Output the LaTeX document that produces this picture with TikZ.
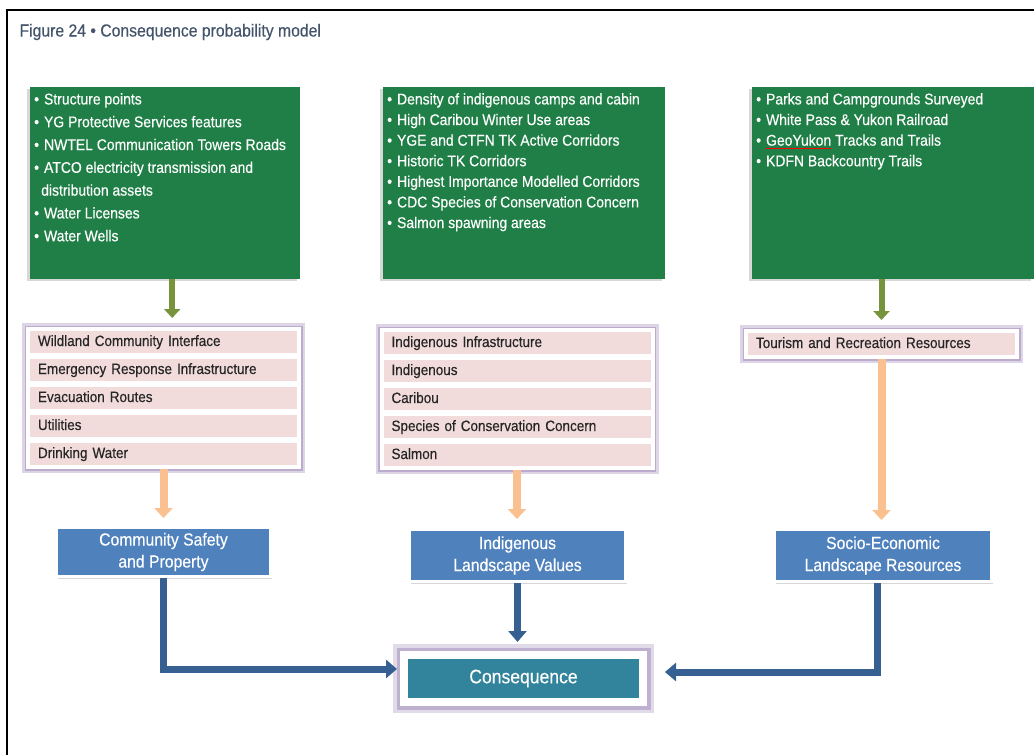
\documentclass[tikz,border=0pt]{standalone}
\usepackage{fontspec}
\setmainfont{Liberation Sans}[FakeStretch=0.9, FakeBold=0.35]
\usetikzlibrary{positioning, arrows.meta, fit, backgrounds, shadows}

\definecolor{listgreen}{HTML}{1F7F46}
\definecolor{arrowgreen}{HTML}{77933C}
\definecolor{rowpink}{HTML}{F2DCDB}
\definecolor{rowline}{HTML}{CFC6DE}
\definecolor{glowpurple}{HTML}{B3A2C7}
\definecolor{arroworange}{HTML}{FAC090}
\definecolor{valueblue}{HTML}{4F81BD}
\definecolor{linkblue}{HTML}{366092}
\definecolor{consteal}{HTML}{31849B}
\definecolor{titleblue}{HTML}{44546A}
\definecolor{rowtext}{HTML}{262626}

\newcommand{\bul}{\textbullet\hspace{5pt}}
\makeatletter
\newcommand{\spellmark}[1]{\setbox\z@\hbox{#1}\rlap{\textcolor{red}{\rule[-3pt]{\wd\z@}{0.7pt}}}\box\z@}
\makeatother

\tikzset{
  listbox/.style={
	fill=listgreen, text=white, % green source boxes
	anchor=north west, inner xsep=4pt, inner ysep=6pt,
	font=\fontsize{15.5}{20.6}\selectfont,
	drop shadow={shadow xshift=-3pt, shadow yshift=-2pt, fill=black!30, opacity=.5},
  },
  rowbox/.style={
	fill=rowpink, draw=white, line width=4pt, outer sep=0pt, % one pink line of a group
	minimum width=271pt, minimum height=26pt, text width=251pt,
	text height=11pt, text depth=3pt,
	inner xsep=10pt, inner ysep=0pt, align=left, text=rowtext,
	font=\fontsize{15}{18}\selectfont,
  },
  grpbox/.style={
	fill=rowline, draw=white, line width=3pt, inner sep=0pt, % purple frame round the lines
	preaction={draw=glowpurple!45, line width=12pt},
	preaction={draw=glowpurple!90, line width=7pt},
  },
  valbox/.style={
	fill=valueblue, draw=white, line width=3pt, text=white, align=center,
	font=\fontsize{17.5}{22}\selectfont,
	drop shadow={shadow xshift=1pt, shadow yshift=-2pt, fill=black!40, opacity=.4},
  },
  consbox/.style={
	fill=consteal, draw=white, line width=8pt, text=white,
	minimum width=239pt, minimum height=47pt,
	font=\fontsize{19.5}{22}\selectfont,
	preaction={draw=glowpurple!40, line width=22pt},
	preaction={draw=glowpurple!85, line width=15pt},
  },
  greenflow/.style={draw=arrowgreen, line width=6pt, -{Triangle[width=16pt,length=9pt]}},
  orangeflow/.style={draw=arroworange, line width=8pt, -{Triangle[width=18pt,length=10pt]}},
  blueflow/.style={draw=linkblue, line width=7pt, -{Triangle[width=18pt,length=11pt]}},
}

\begin{document}
\begin{tikzpicture}[x=1pt, y=-1pt]
	  \useasboundingbox (0,0) rectangle (1034,755);
	  \draw[line width=2pt] (1034,10) -| (7,755);
	  \node[font=\fontsize{17.5}{20}\selectfont, text=titleblue, anchor=west] (title) at (16,32)
		{Figure 24 \textbullet{} Consequence probability model};

	  % data sources
	  \node[listbox, font=\fontsize{15.5}{22.8}\selectfont] (lst1) at (30,87) {\parbox[t][180pt][t]{262pt}{\raggedright
		\bul Structure points\\
		\bul YG Protective Services features\\
		\bul NWTEL Communication Towers Roads\\
		\bul ATCO electricity transmission and\\
		\hspace*{7pt}distribution assets\\
		\bul Water Licenses\\
		\bul Water Wells}};
	  \node[listbox] (lst2) at (383,87) {\parbox[t][180pt][t]{274pt}{\raggedright
		\bul Density of indigenous camps and cabin\\
		\bul High Caribou Winter Use areas\\
		\bul YGE and CTFN TK Active Corridors\\
		\bul Historic TK Corridors\\
		\bul Highest Importance Modelled Corridors\\
		\bul CDC Species of Conservation Concern\\
		\bul Salmon spawning areas}};
	  \node[listbox] (lst3) at (752,87) {\parbox[t][180pt][t]{274pt}{\raggedright
		\bul Parks and Campgrounds Surveyed\\
		\bul White Pass \& Yukon Railroad\\
		\bul \spellmark{GeoYukon} Tracks and Trails\\
		\bul KDFN Backcountry Trails}};

	  % value layers
	  \node[rowbox] (wci) at (163.5,342) {Wildland Community Interface};
	  \node[rowbox, below=2pt of wci] (eri) {Emergency Response Infrastructure};
	  \node[rowbox, below=2pt of eri] (evr) {Evacuation Routes};
	  \node[rowbox, below=2pt of evr] (utl) {Utilities};
	  \node[rowbox, below=2pt of utl] (dwt) {Drinking Water};

	  \node[rowbox] (iif) at (517,343) {Indigenous Infrastructure};
	  \node[rowbox, below=2pt of iif] (ind) {Indigenous};
	  \node[rowbox, below=2pt of ind] (car) {Caribou};
	  \node[rowbox, below=2pt of car] (scc) {Species of Conservation Concern};
	  \node[rowbox, below=2pt of scc] (sal) {Salmon};

	  \node[rowbox] (trr) at (881.5,344) {Tourism and Recreation Resources};

	  \begin{scope}[on background layer]
		\node[grpbox, fit=(wci)(dwt)] (grp1) {};
		\node[grpbox, fit=(iif)(sal)] (grp2) {};
		\node[grpbox, fit=(trr)] (grp3) {};
	  \end{scope}

	  % themes
	  \node[valbox, minimum width=214pt, minimum height=49pt] (csp) at (163.5,552) {Community Safety\\and Property};
	  \node[valbox, minimum width=216pt, minimum height=52pt] (ilv) at (517.5,555.5) {Indigenous\\Landscape Values};
	  \node[valbox, minimum width=217pt, minimum height=52pt] (selr) at (883,555.5) {Socio-Economic\\Landscape Resources};
	  \node[consbox] (cons) at (523.5,678.5) {Consequence};

	  \coordinate (lst1foot) at ([xshift=7pt]lst1.south);
	  \coordinate (selrfoot) at ([xshift=-6pt]selr.south);
	  \draw[greenflow, shorten >=9.5pt] (lst1foot) -- (lst1foot |- grp1.north);
	  \draw[greenflow, shorten >=9.5pt] (grp3.north |- lst3.south) -- (grp3.north);
	  \draw[orangeflow, shorten >=8pt] (grp1.south) -- (csp.north);
	  \draw[orangeflow, shorten >=9pt] (grp2.south) -- (grp2.south |- ilv.north);
	  \draw[orangeflow, shorten >=8pt] (grp3.south) -- (grp3.south |- selr.north);
	  \draw[blueflow, shorten >=3pt] (csp.south) |- ([yshift=9.5pt]cons.west);
	  \draw[blueflow, shorten >=9pt] (ilv.south) -- (ilv.south |- cons.north);
	  \draw[blueflow, shorten >=18pt] (selrfoot) |- ([yshift=6.5pt]cons.east);
\end{tikzpicture}
\end{document}
